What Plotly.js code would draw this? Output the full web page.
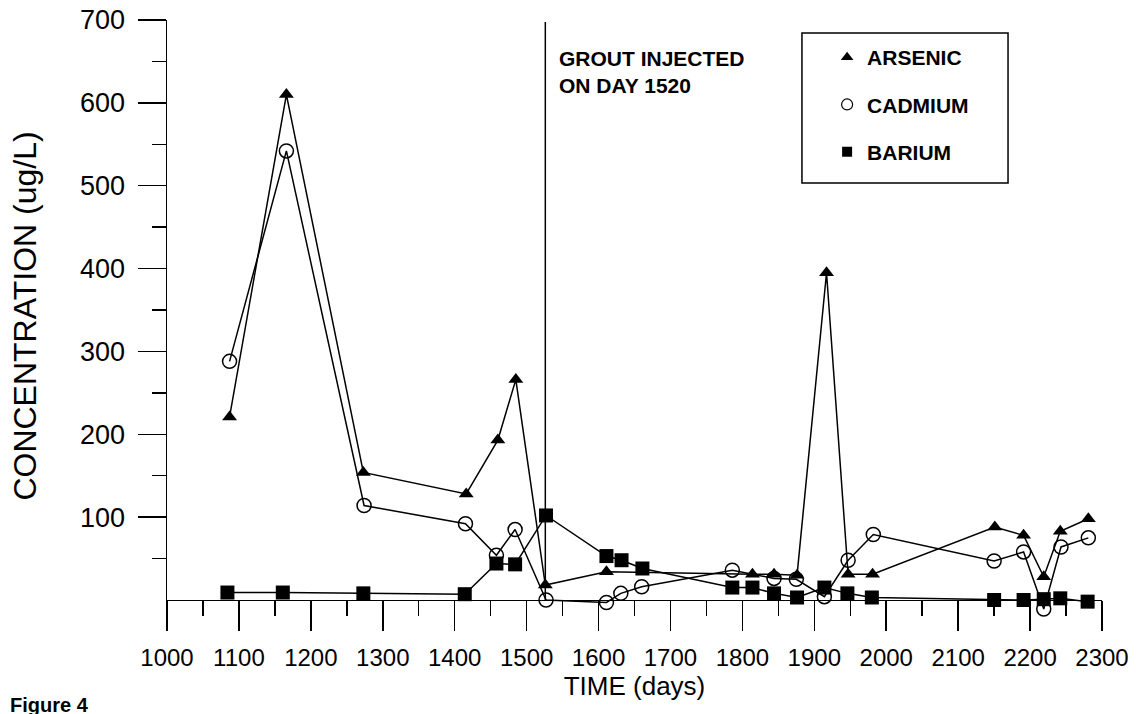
<!DOCTYPE html>
<html>
<head>
<meta charset="utf-8">
<script src="https://cdn.plot.ly/plotly-3.0.1.min.js"></script>
<style>html,body{margin:0;padding:0;background:#fff;}#chart{width:1136px;height:714px;}</style>
</head>
<body>
<div id="chart"></div>
<script>
// Data (days, concentration in ug/L)
const DAYS_ARSENIC = [1087,1166,1273,1416,1460,1485,1526,1611,1814,1844,1876,1917,1947,1981,2151,2191,2219,2242,2281];
const ARSENIC      = [221, 610, 154, 128, 193, 266, 18,  34,  31,  31,  30,  395, 31,  31,  88,  78,  28,  83,  98];
const DAYS_CADMIUM = [1087,1166,1274,1415,1458,1484,1527,1611,1631,1660,1786,1844,1875,1914,1947,1982,2150,2191,2219,2243,2281];
const CADMIUM      = [288, 542, 114, 92,  54,  85,  0,   -3,  8,   16,  36,  26,  25,  4,   48,  79,  47,  58,  -11, 64,  75];
const DAYS_BARIUM  = [1084,1161,1273,1414,1458,1484,1527,1611,1632,1661,1786,1814,1844,1876,1914,1946,1980,2150,2191,2219,2242,2280];
const BARIUM       = [9,   9,   8,   7,   44,  43,  102, 53,  48,  38,  15,  15,  8,   3,   15,  8,   3,   0,   0,   1,   2,   -2];
const SERIES_NAMES = ["ARSENIC", "CADMIUM", "BARIUM"];
const X_TICKS = [1000,1100,1200,1300,1400,1500,1600,1700,1800,1900,2000,2100,2200,2300];
const Y_TICKS = [100,200,300,400,500,600,700];
const GROUT_DAY = 1526;
const GROUT_LABEL = "GROUT INJECTED<br>ON DAY 1520";

const FONT = "Liberation Sans, Arial, sans-serif";
const Y_MIN = -14.5, Y_MAX = 700;
const line = {color: "#000", width: 1.5};

const traces = [
  {x: DAYS_BARIUM, y: BARIUM, mode: "lines+markers", showlegend: false, cliponaxis: false,
   line: line, marker: {symbol: "square", size: 14, color: "#000"}},
  {x: DAYS_CADMIUM, y: CADMIUM, mode: "lines+markers", showlegend: false, cliponaxis: false,
   line: line, marker: {symbol: "circle-open", size: 14, color: "#000", line: {width: 1.5, color: "#000"}}},
  {x: DAYS_ARSENIC, y: ARSENIC, mode: "lines+markers", showlegend: false, cliponaxis: false,
   line: line, marker: {symbol: "triangle-up", size: 13, color: "#000"}},
  // legend-only entries (markers only, as in the original key)
  {x: [null], y: [null], mode: "markers", name: SERIES_NAMES[0], legendgroup: "a",
   marker: {symbol: "triangle-up", size: 11, color: "#000"}},
  {x: [null], y: [null], mode: "markers", name: SERIES_NAMES[1], legendgroup: "c",
   marker: {symbol: "circle-open", size: 11, color: "#000", line: {width: 1.2, color: "#000"}}},
  {x: [null], y: [null], mode: "markers", name: SERIES_NAMES[2], legendgroup: "b",
   marker: {symbol: "square", size: 10, color: "#000"}}
];

const layout = {
  width: 1136, height: 714,
  margin: {l: 167, r: 34, t: 20, b: 102},
  paper_bgcolor: "#fff", plot_bgcolor: "#fff",
  font: {family: FONT, color: "#000"},
  xaxis: {
    range: [1000, 2300], tickvals: X_TICKS, ticktext: X_TICKS.map(String),
    anchor: "free", position: -Y_MIN / (Y_MAX - Y_MIN),
    ticks: "outside", ticklen: 30, tickwidth: 1.5, tickcolor: "#000",
    minor: {tickvals: X_TICKS.slice(0, -1).map(v => v + 50), ticks: "outside", ticklen: 15, tickwidth: 1.5, tickcolor: "#000"},
    showline: true, linecolor: "#000", linewidth: 1.5, showgrid: false, zeroline: false,
    tickfont: {family: FONT, size: 24, color: "#000"}, ticklabelstandoff: 6,
    title: {text: "TIME (days)", font: {family: FONT, size: 26, color: "#000"}, standoff: 0}
  },
  yaxis: {
    range: [Y_MIN, Y_MAX], tickvals: Y_TICKS, ticktext: Y_TICKS.map(String),
    ticks: "outside", ticklen: 28, tickwidth: 1.5, tickcolor: "#000",
    minor: {tickvals: Y_TICKS.map(v => v - 50), ticks: "outside", ticklen: 14, tickwidth: 1.5, tickcolor: "#000"},
    showline: true, linecolor: "#000", linewidth: 1.5, showgrid: false, zeroline: false,
    tickfont: {family: FONT, size: 27, color: "#000"}, ticklabelstandoff: 7,
    title: {text: "CONCENTRATION (ug/L)", font: {family: FONT, size: 32, color: "#000"}, standoff: 34}
  },
  showlegend: true,
  legend: {
    x: 0.706, xanchor: "left", y: 0.9713, yanchor: "top",
    bgcolor: "rgba(0,0,0,0)", borderwidth: 0,
    traceorder: "grouped", tracegroupgap: 17,
    font: {family: FONT, size: 21, color: "#000", weight: "bold"}
  },
  shapes: [
    {type: "line", xref: "x", yref: "paper", x0: GROUT_DAY, x1: GROUT_DAY, y0: -Y_MIN / (Y_MAX - Y_MIN), y1: 0.9966,
     line: {color: "#000", width: 1.5}},
    {type: "rect", xref: "paper", yref: "paper", x0: 0.6791, x1: 0.8995, y0: 0.7247, y1: 0.978,
     line: {color: "#000", width: 1.5}, fillcolor: "#fff", layer: "above"}
  ],
  annotations: [
    {xref: "paper", yref: "paper", x: 0.417, y: 0.9578, xanchor: "left", yanchor: "top", align: "left",
     showarrow: false, text: "<b>" + GROUT_LABEL + "</b>", font: {family: FONT, size: 21, color: "#000"}},
    {xref: "paper", yref: "paper", x: -0.170, y: -0.1351, xanchor: "left", yanchor: "top", align: "left",
     showarrow: false, text: "<b>Figure 4</b>", font: {family: FONT, size: 20, color: "#000"}}
  ]
};

Plotly.newPlot("chart", traces, layout, {displayModeBar: false, staticPlot: true});
</script>
</body>
</html>
